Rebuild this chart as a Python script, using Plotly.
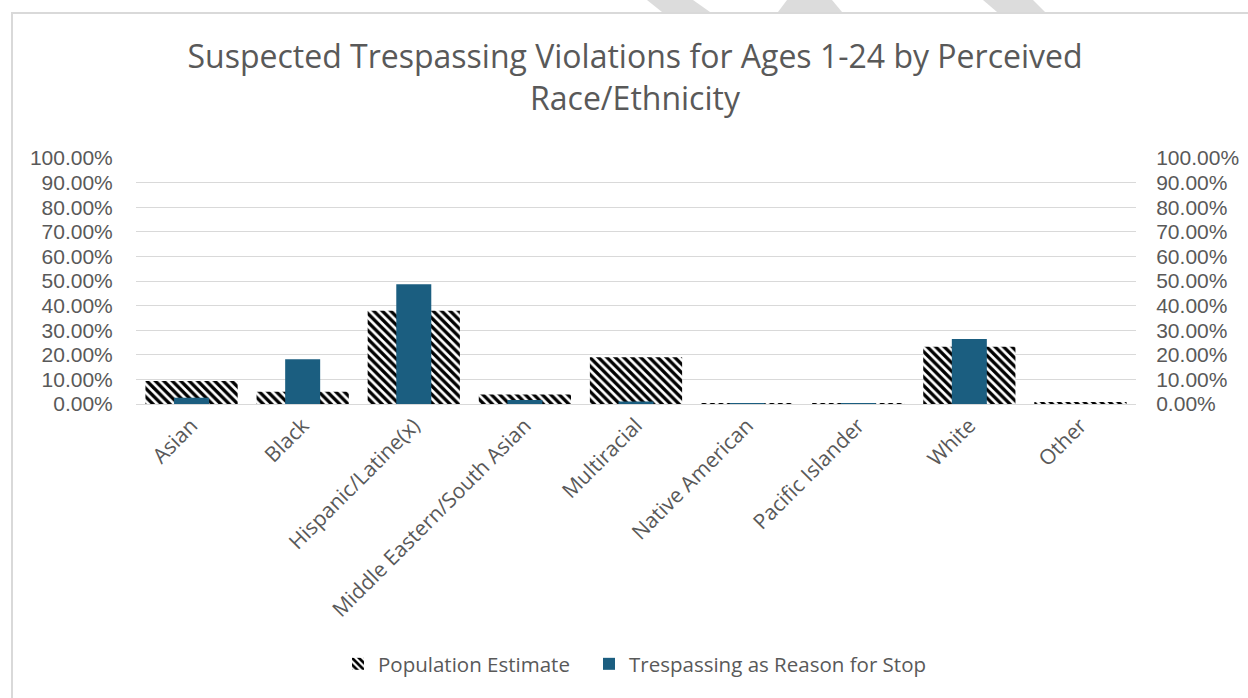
import plotly.graph_objects as go

categories = ["Asian", "Black", "Hispanic/Latine(x)", "Middle Eastern/South Asian",
              "Multiracial", "Native American", "Pacific Islander", "White", "Other"]
population_estimate = [0.094, 0.050, 0.379, 0.039, 0.190, 0.002, 0.003, 0.233, 0.006]
trespassing_stop = [0.025, 0.182, 0.487, 0.016, 0.010, 0.003, 0.004, 0.264, 0.000]
y_ticks = [i / 10 for i in range(11)]

W, H = 1248, 698
L, R, T, B = 136, 112, 158, 294
PW, PH = W - L - R, H - T - B

def px(x):
    return (x - L) / PW

def py(y):
    return (H - B - y) / PH

GRAY = "#595959"
GRID = "#d9d9d9"
FONT = "Open Sans, Liberation Sans, Arial, sans-serif"
TICKFONT = "Liberation Sans, Arial, sans-serif"

fig = go.Figure()
fig.add_bar(
    x=categories, y=population_estimate, width=0.83, name="Population Estimate",
    marker=dict(color="white", line=dict(width=0),
                pattern=dict(shape="\\", fgcolor="black", bgcolor="white", size=6,
                             solidity=0.55, fgopacity=1)),
    yaxis="y", legend="legend", showlegend=True,
)
fig.add_bar(
    x=categories, y=trespassing_stop, width=0.315, name="Trespassing as Reason for Stop",
    marker=dict(color="#1B5E80", line=dict(width=0)),
    yaxis="y2", legend="legend2", showlegend=True,
)

axis_common = dict(range=[0, 1], tickvals=y_ticks, tickformat=".2%",
                   tickfont=dict(size=21, color=GRAY, family=TICKFONT), fixedrange=True)
legend_common = dict(orientation="h", xanchor="left", y=py(664), yanchor="middle",
                     font=dict(size=20.5, color=GRAY, family=FONT), itemwidth=30,
                     bgcolor="rgba(0,0,0,0)", visible=True)
fig.update_layout(
    width=W, height=H,
    margin=dict(l=L, r=R, t=T, b=B, autoexpand=False),
    paper_bgcolor="white", plot_bgcolor="white",
    barmode="overlay", showlegend=True,
    font=dict(family=FONT, color=GRAY),
    title=dict(text="Suspected Trespassing Violations for Ages 1-24 by Perceived<br>Race/Ethnicity",
               x=635 / W, xanchor="center", y=1 - 68 / H, yanchor="top",
               font=dict(size=32, color=GRAY, family=FONT)),
    xaxis=dict(tickangle=-45, tickfont=dict(size=21, color=GRAY, family=FONT),
               showline=True, linecolor=GRID, linewidth=1, ticks="", showgrid=False,
               fixedrange=True),
    yaxis=dict(**axis_common, showgrid=True, gridcolor=GRID, gridwidth=1,
               zeroline=False, showline=False, ticks="outside", ticklen=8,
               tickcolor="white", ticklabelstandoff=10),
    yaxis2=dict(**axis_common, overlaying="y", side="right", showgrid=False,
                zeroline=False, showline=False, ticks="outside", ticklen=8,
                tickcolor="white", ticklabelstandoff=7),
    legend=dict(**legend_common, x=px(338)),
    legend2=dict(**legend_common, x=px(589)),
)

# decorative background shapes at the top and chart border
for pts in [[(647, 0), (693, 0), (710, 12), (662, 12)],
            [(787, 0), (832, 0), (842, 12), (778, 12)],
            [(983, 0), (1033, 0), (1045, 12), (997, 12)]]:
    path = "M " + " L ".join(f"{px(a):.5f},{py(b):.5f}" for a, b in pts) + " Z"
    fig.add_shape(type="path", path=path, xref="paper", yref="paper",
                  fillcolor="#dcdcdc", line=dict(width=0), layer="below")
fig.add_shape(type="rect", xref="paper", yref="paper",
              x0=px(12), y0=py(H + 20), x1=px(W + 20), y1=py(13),
              line=dict(color=GRID, width=2), fillcolor="rgba(0,0,0,0)", layer="below")

fig.write_html("out.html", config={"displayModeBar": False},
               post_script="document.body.style.margin='0';document.body.style.overflow='hidden';")
